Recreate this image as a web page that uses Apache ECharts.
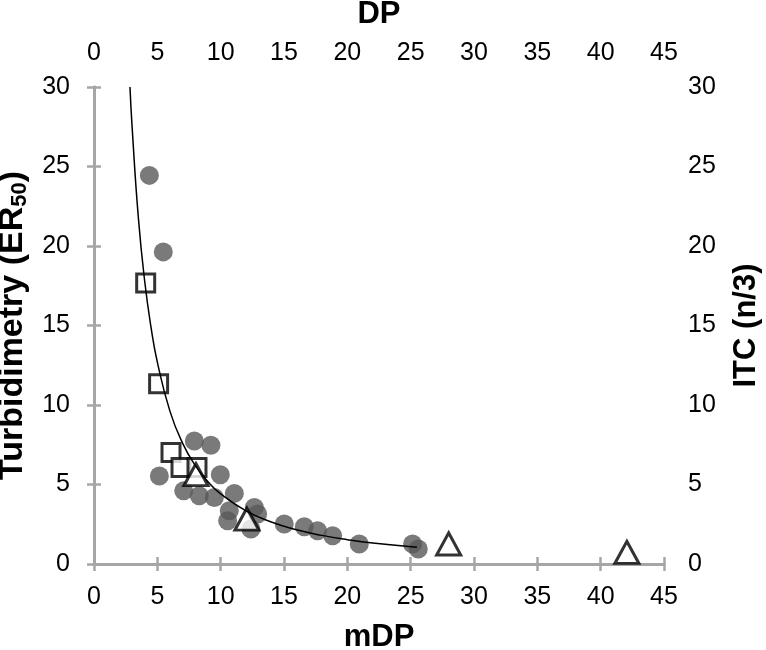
<!DOCTYPE html>
<html><head><meta charset="utf-8">
<script src="https://cdn.jsdelivr.net/npm/echarts@6/dist/echarts.min.js"></script>
<style>html,body{margin:0;padding:0;background:#fff}#c{width:766px;height:650px}</style>
</head><body><div id="c"></div>
<script>
// Turbidimetry (ER50) vs mDP — filled circles
const circleMDP = [4.37, 5.47, 5.16, 7.92, 9.23, 9.97, 7.08, 8.31, 9.5, 11.08, 10.68, 10.55, 12.66, 12.92, 12.39, 15.02, 16.6, 17.65, 18.84, 20.94, 25.15, 25.6];
const circleER50 = [24.44, 19.63, 5.54, 7.74, 7.47, 5.61, 4.6, 4.29, 4.18, 4.44, 3.35, 2.72, 3.56, 3.14, 2.2, 2.51, 2.34, 2.09, 1.78, 1.26, 1.26, 0.94];
// ITC (n/3) vs DP — open squares
const squareDP = [4.08, 5.1, 6.08, 6.87, 8.13];
const squareITC = [17.68, 11.34, 7.01, 6.07, 6.07];
// ITC (n/3) vs DP — open triangles
const triDP = [8.05, 12.07, 28.0, 42.07];
const triITC = [5.62, 2.82, 1.26, 0.73];
// fitted curve
const curveX = [2.84, 3, 3.5, 4, 4.5, 5, 6, 7, 8, 9, 10, 12, 14, 16, 18, 20, 22, 25.5];
const curveY = [30, 27.6, 21.8, 17.8, 14.9, 12.7, 9.6, 7.59, 6.19, 5.17, 4.41, 3.34, 2.64, 2.15, 1.80, 1.53, 1.32, 1.06];
const xTicks = [0, 45, 5];
const yTicks = [0, 30, 5];

const zip = (a, b) => a.map((v, i) => [v, b[i]]);
const FONT = 'Liberation Sans';
const axisLine = {show: true, lineStyle: {color: '#a6a6a6', width: 3}};
const axisTick = {show: true, length: 7, lineStyle: {color: '#a6a6a6', width: 2.5}};
const lab = (m) => ({color: '#000', fontSize: 25, fontFamily: FONT, margin: m});
const nameStyle = {color: '#000', fontSize: 31, fontWeight: 'bold', fontFamily: FONT};
const leftName = Object.assign({}, nameStyle, {fontSize: 34});

const chart = echarts.init(document.getElementById('c'), null, {renderer: 'canvas'});
chart.setOption({
  animation: false,
  backgroundColor: '#fff',
  grid: {left: 94, right: 102, top: 87, bottom: 86, outerBoundsMode: 'none', containLabel: false},
  xAxis: [
    {type: 'value', position: 'bottom', min: xTicks[0], max: xTicks[1], interval: xTicks[2],
     name: 'mDP', nameLocation: 'middle', nameGap: 58, nameTextStyle: nameStyle,
     axisLine, axisTick, axisLabel: lab(21), splitLine: {show: false}},
    {type: 'value', position: 'top', min: xTicks[0], max: xTicks[1], interval: xTicks[2],
     name: 'DP', nameLocation: 'middle', nameGap: 57, nameTextStyle: nameStyle,
     axisLine, axisTick, axisLabel: lab(21), splitLine: {show: false}}
  ],
  yAxis: [
    {type: 'value', position: 'left', min: yTicks[0], max: yTicks[1], interval: yTicks[2],
     name: '{n|Turbidimetry (ER}{s|50}{n|)}', nameLocation: 'middle', nameGap: 56, nameRotate: 90,
     nameTextStyle: {padding: [0, 0, 0, 0], rich: {n: leftName, s: Object.assign({}, leftName, {fontSize: 22, verticalAlign: 'bottom', padding: [15, 0, 0, 0]})}},
     axisLine, axisTick, axisLabel: lab(24), splitLine: {show: false}},
    {type: 'value', position: 'right', min: yTicks[0], max: yTicks[1], interval: yTicks[2],
     name: 'ITC (n/3)', nameLocation: 'middle', nameGap: 67, nameRotate: 90, nameTextStyle: nameStyle,
     axisLine, axisTick, axisLabel: lab(24), splitLine: {show: false}}
  ],
  series: [
    {type: 'scatter', name: 'circles', xAxisIndex: 0, yAxisIndex: 0, data: zip(circleMDP, circleER50),
     symbol: 'circle', symbolSize: 19, itemStyle: {color: '#595959'}, z: 2},
    {type: 'scatter', name: 'squares', xAxisIndex: 1, yAxisIndex: 1, data: zip(squareDP, squareITC),
     symbol: 'rect', symbolSize: 18, itemStyle: {color: '#fff', borderColor: '#000', borderWidth: 3}, z: 3},
    {type: 'scatter', name: 'triangles', xAxisIndex: 1, yAxisIndex: 1, data: zip(triDP, triITC),
     symbol: 'triangle', symbolSize: [24, 22], itemStyle: {color: '#fff', borderColor: '#000', borderWidth: 3}, z: 3},
    {type: 'line', name: 'fit', xAxisIndex: 0, yAxisIndex: 0, data: zip(curveX, curveY),
     smooth: true, showSymbol: false, symbol: 'none', lineStyle: {color: '#000', width: 1.5}, z: 4}
  ]
});
</script></body></html>
